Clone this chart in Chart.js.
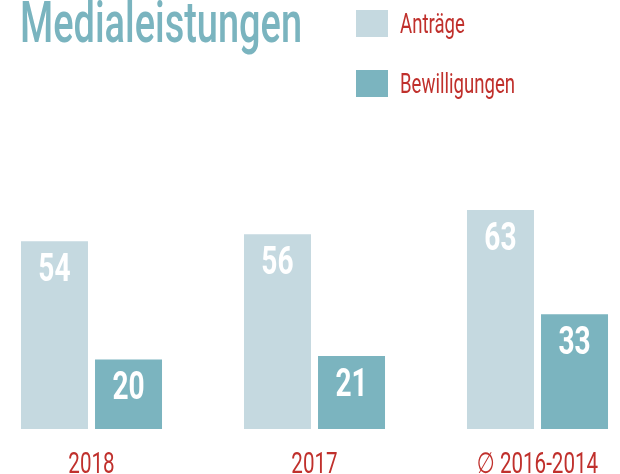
<!DOCTYPE html>
<html>
<head>
<meta charset="utf-8">
<script src="https://cdn.jsdelivr.net/npm/chart.js@4"></script>
<style>
  html, body { margin: 0; padding: 0; background: #fff; }
  #wrap { width: 620px; height: 474px; position: relative; }
</style>
</head>
<body>
<div id="wrap"><canvas id="mediaChart" width="620" height="474"></canvas></div>
<script>
// Daten
const categories = ['2018', '2017', '\u2205 2016-2014'];
const antraege = [54, 56, 63];
const bewilligungen = [20, 21, 33];
const seriesNames = ['Anträge', 'Bewilligungen'];

const chartTitle = 'Medialeistungen';
const FONT = 'Roboto, "DejaVu Sans", sans-serif';
const RED = '#c0302c';
const TEAL_TEXT = '#7ab4bf';
const NARROW = 0.71; // Schrift schmaler machen (condensed look)

// schmalen Text zeichnen
function narrowText(ctx, text, x, y, align, sx) {
    ctx.save();
    ctx.translate(x, y);
    ctx.scale(sx || NARROW, 1);
    ctx.textAlign = align;
    ctx.textBaseline = 'alphabetic';
    ctx.fillText(text, 0, 0);
    ctx.restore();
}

// Titel, Legende und Achsenbeschriftung
const headerPlugin = {
    id: 'header',
    afterDraw(chart) {
        const ctx = chart.ctx;
        ctx.save();
        ctx.fillStyle = TEAL_TEXT;
        ctx.font = '500 57px ' + FONT;
        const titleScale = 282 / ctx.measureText(chartTitle).width;
        narrowText(ctx, chartTitle, 20, 42, 'left', titleScale);

        const rows = [10, 70];
        ctx.font = '27px ' + FONT;
        const legScale = 115 / ctx.measureText(seriesNames[1]).width;
        chart.data.datasets.forEach((ds, i) => {
            ctx.fillStyle = ds.backgroundColor;
            ctx.fillRect(356, rows[i], 32, 27);
            ctx.fillStyle = RED;
            narrowText(ctx, ds.label, 400, rows[i] + 23, 'left', legScale);
        });

        // Kategorien unter den Balken
        const xScale = chart.scales.x;
        ctx.fillStyle = RED;
        ctx.font = '29px ' + FONT;
        chart.data.labels.forEach((lbl, i) => {
            narrowText(ctx, lbl, xScale.getPixelForTick(i), chart.chartArea.bottom + 44, 'center');
        });
        ctx.restore();
    }
};

// Werte in den Balken
const valueLabels = {
    id: 'valueLabels',
    afterDatasetsDraw(chart) {
        const ctx = chart.ctx;
        ctx.save();
        ctx.fillStyle = '#ffffff';
        ctx.font = 'bold 39px ' + FONT;
        chart.data.datasets.forEach((ds, i) => {
            chart.getDatasetMeta(i).data.forEach((bar, j) => {
                narrowText(ctx, String(ds.data[j]), bar.x, bar.y + 40, 'center', 0.72);
            });
        });
        ctx.restore();
    }
};

const ctx = document.getElementById('mediaChart').getContext('2d');

new Chart(ctx, {
    type: 'bar',
    data: {
        labels: categories,
        datasets: [{
            label: seriesNames[0],
            data: antraege,
            backgroundColor: '#c5d9e0',
            clip: false
        }, {
            label: seriesNames[1],
            data: bewilligungen,
            backgroundColor: '#7bb4bf',
            clip: false
        }]
    },
    options: {
        responsive: false,
        animation: false,
        categoryPercentage: 0.664,
        barPercentage: 0.905,
        layout: {
            padding: { left: 91.5, right: 82.5, top: 210, bottom: 0 }
        },
        plugins: {
            legend: { display: false },
            title: { display: false },
            tooltip: { enabled: false }
        },
        scales: {
            x: {
                offset: false,
                grid: { display: false, drawTicks: false },
                border: { display: false },
                ticks: { display: false },
                afterFit: function (scale) {
                    scale.paddingLeft = 0;
                    scale.paddingRight = 0;
                    scale.height = 45;
                }
            },
            y: {
                display: false,
                min: 0,
                max: 63
            }
        }
    },
    plugins: [headerPlugin, valueLabels]
});
</script>
</body>
</html>
